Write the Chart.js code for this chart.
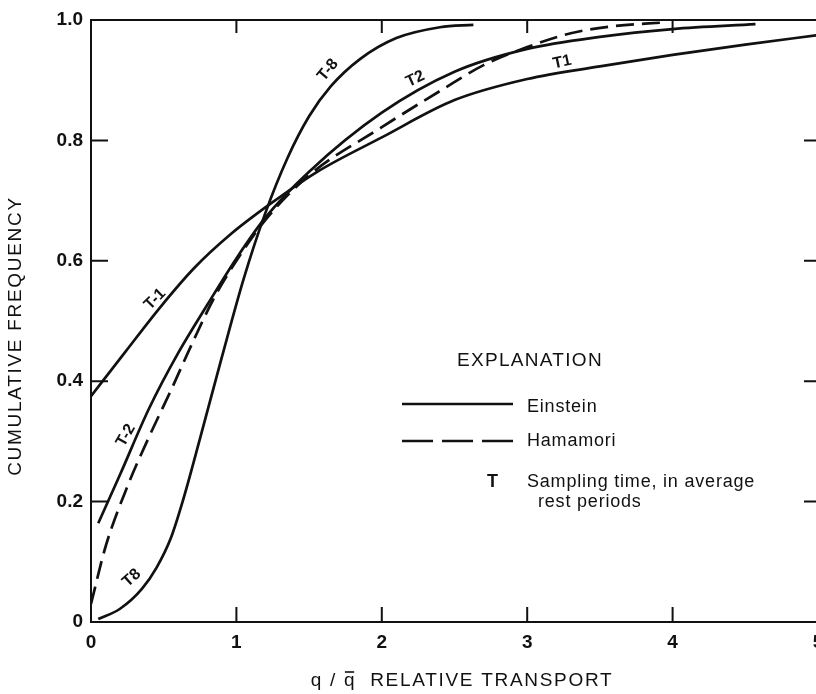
<!DOCTYPE html>
<html lang="en">
<head>
  <meta charset="UTF-8" />
  <title>Cumulative frequency of relative transport</title>
  <script src="https://cdn.jsdelivr.net/npm/chart.js"></script>
  <style>
    body {
      margin: 0;
      background: #fff;
      overflow: hidden;
    }
    .chart-box {
      position: relative;
      width: 840px;
      height: 694px;
    }
  </style>
</head>
<body>
  <div class="chart-box">
    <canvas id="freqChart"></canvas>
  </div>
  <script>
    // values (q/q-bar vs cumulative frequency)
    const einsteinT1X = [0, 0.24, 0.48, 0.71, 0.96, 1.23, 1.55, 2.0, 2.5, 3.0, 3.5, 4.0, 4.5, 5.0];
    const einsteinT1Y = [0.375, 0.45, 0.524, 0.588, 0.644, 0.694, 0.747, 0.805, 0.867, 0.902, 0.923, 0.942, 0.959, 0.975];

    const einsteinT2X = [0.05, 0.2, 0.4, 0.6, 0.8, 1.0, 1.2, 1.5, 2.0, 2.5, 3.0, 3.5, 4.0, 4.57];
    const einsteinT2Y = [0.164, 0.245, 0.355, 0.447, 0.527, 0.604, 0.672, 0.748, 0.846, 0.914, 0.952, 0.972, 0.985, 0.993];

    const einsteinT8X = [0.05, 0.2, 0.35, 0.45, 0.55, 0.63, 0.75, 0.9, 1.05, 1.2, 1.35, 1.5, 1.65, 1.85, 2.1, 2.4, 2.63];
    const einsteinT8Y = [0.005, 0.022, 0.055, 0.09, 0.14, 0.2, 0.305, 0.44, 0.57, 0.68, 0.77, 0.84, 0.89, 0.935, 0.97, 0.988, 0.992];

    const hamamoriX = [0, 0.1, 0.25, 0.4, 0.55, 0.7, 0.85, 1.0, 1.2, 1.5, 2.0, 2.4, 2.7, 3.0, 3.3, 3.6, 3.95];
    const hamamoriY = [0.03, 0.125, 0.225, 0.308, 0.385, 0.465, 0.54, 0.6, 0.668, 0.742, 0.822, 0.882, 0.925, 0.955, 0.978, 0.99, 0.996];

    const xTickLabels = ["0", "1", "2", "3", "4", "5"];
    const yTickLabels = ["0", "0.2", "0.4", "0.6", "0.8", "1.0"];

    // curve tags: text, data position, rotation (deg)
    const curveTags = [
      { text: "T-1", x: 0.44, y: 0.536, angle: -45 },
      { text: "T-2", x: 0.24, y: 0.31, angle: -60 },
      { text: "T8", x: 0.28, y: 0.073, angle: -42 },
      { text: "T-8", x: 1.63, y: 0.917, angle: -50 },
      { text: "T2", x: 2.23, y: 0.902, angle: -25 },
      { text: "T1", x: 3.24, y: 0.93, angle: -12 }
    ];

    const ink = "#111";
    const face = "'Liberation Sans', Arial, sans-serif";
    const pts = (xs, ys) => xs.map((x, i) => ({ x: x, y: ys[i] }));

    function curve(label, xs, ys, dash) {
      return {
        label: label,
        data: pts(xs, ys),
        borderColor: ink,
        borderWidth: 2.7,
        borderDash: dash || [],
        pointRadius: 0,
        fill: false,
        cubicInterpolationMode: "monotone"
      };
    }

    // inward tick marks, axis titles, curve tags and the explanation box
    const extras = {
      id: "extras",
      afterDraw(chart) {
        const { ctx, chartArea: a, scales } = chart;
        const xs = scales.x, ys = scales.y;
        ctx.save();
        ctx.strokeStyle = ink;
        ctx.lineWidth = 2;
        ctx.beginPath();
        [1, 2, 3, 4].forEach(v => {
          const px = xs.getPixelForValue(v);
          ctx.moveTo(px, a.bottom); ctx.lineTo(px, a.bottom - 15);
          ctx.moveTo(px, a.top); ctx.lineTo(px, a.top + 13);
        });
        [0.2, 0.4, 0.6, 0.8].forEach(v => {
          const py = ys.getPixelForValue(v);
          ctx.moveTo(a.left, py); ctx.lineTo(a.left + 17, py);
          ctx.moveTo(a.right, py); ctx.lineTo(a.right - 14, py);
        });
        ctx.stroke();

        ctx.fillStyle = ink;
        ctx.textBaseline = "middle";

        // axis titles
        ctx.font = "19px " + face;
        ctx.letterSpacing = "1.7px";
        ctx.textAlign = "left";
        const head = "q / q";
        const tail = "  RELATIVE TRANSPORT";
        const wHead = ctx.measureText(head).width;
        const wQ = ctx.measureText("q").width;
        const total = wHead + ctx.measureText(tail).width;
        const tx = 462 - total / 2, ty = 681;
        ctx.fillText(head, tx, ty);
        ctx.fillText(tail, tx + wHead, ty);
        ctx.lineWidth = 1.6;
        ctx.beginPath();
        ctx.moveTo(tx + wHead - wQ + 1, ty - 9);
        ctx.lineTo(tx + wHead - 2, ty - 9);
        ctx.stroke();

        ctx.save();
        ctx.translate(16, 336);
        ctx.rotate(-Math.PI / 2);
        ctx.textAlign = "center";
        ctx.fillText("CUMULATIVE FREQUENCY", 0, 0);
        ctx.restore();

        // curve tags
        ctx.letterSpacing = "0px";
        ctx.font = "bold 16px " + face;
        ctx.textAlign = "center";
        curveTags.forEach(t => {
          ctx.save();
          ctx.translate(xs.getPixelForValue(t.x), ys.getPixelForValue(t.y));
          ctx.rotate(t.angle * Math.PI / 180);
          ctx.fillText(t.text, 0, 0);
          ctx.restore();
        });

        // explanation
        ctx.textAlign = "left";
        ctx.letterSpacing = "1.3px";
        ctx.font = "19px " + face;
        ctx.fillText("EXPLANATION", 457, 361);
        ctx.letterSpacing = "0.8px";
        ctx.font = "18px " + face;
        ctx.fillText("Einstein", 527, 407);
        ctx.fillText("Hamamori", 527, 441);
        ctx.fillText("Sampling time, in average", 527, 482);
        ctx.fillText("rest periods", 538, 502);
        ctx.font = "bold 18px " + face;
        ctx.fillText("T", 487, 482);

        ctx.lineWidth = 2.7;
        ctx.beginPath();
        ctx.moveTo(402, 404); ctx.lineTo(513, 404);
        ctx.stroke();
        ctx.setLineDash([31, 9]);
        ctx.beginPath();
        ctx.moveTo(402, 441); ctx.lineTo(513, 441);
        ctx.stroke();
        ctx.restore();
      }
    };

    const tickFont = { family: face, size: 19, weight: "bold" };
    const frame = { display: true, color: ink, width: 2 };
    const noGrid = { display: false, drawTicks: false };

    new Chart(document.getElementById("freqChart"), {
      type: "line",
      data: {
        datasets: [
          curve("Einstein T=1", einsteinT1X, einsteinT1Y),
          curve("Einstein T=2", einsteinT2X, einsteinT2Y),
          curve("Einstein T=8", einsteinT8X, einsteinT8Y),
          curve("Hamamori", hamamoriX, hamamoriY, [18, 8])
        ]
      },
      options: {
        responsive: true,
        maintainAspectRatio: false,
        animation: false,
        layout: { padding: 0 },
        plugins: {
          legend: { display: false },
          tooltip: { enabled: false }
        },
        scales: {
          x: {
            type: "linear",
            position: "bottom",
            min: 0,
            max: 5,
            grid: noGrid,
            border: frame,
            ticks: {
              stepSize: 1,
              padding: 9,
              color: ink,
              font: tickFont,
              autoSkip: false,
              callback: (v) => xTickLabels[v]
            },
            afterFit: (s) => { s.height = 72; }
          },
          xTop: {
            type: "linear",
            position: "top",
            min: 0,
            max: 5,
            grid: noGrid,
            border: frame,
            ticks: { display: false },
            afterFit: (s) => { s.height = 20; }
          },
          y: {
            type: "linear",
            position: "left",
            min: 0,
            max: 1,
            grid: noGrid,
            border: frame,
            ticks: {
              stepSize: 0.2,
              padding: 8,
              color: ink,
              font: tickFont,
              callback: (v, i) => yTickLabels[i]
            },
            afterFit: (s) => { s.width = 91; }
          },
          yRight: {
            type: "linear",
            position: "right",
            min: 0,
            max: 1,
            grid: noGrid,
            border: frame,
            ticks: { display: false },
            afterFit: (s) => { s.width = 22; }
          }
        }
      },
      plugins: [extras]
    });
  </script>
</body>
</html>
